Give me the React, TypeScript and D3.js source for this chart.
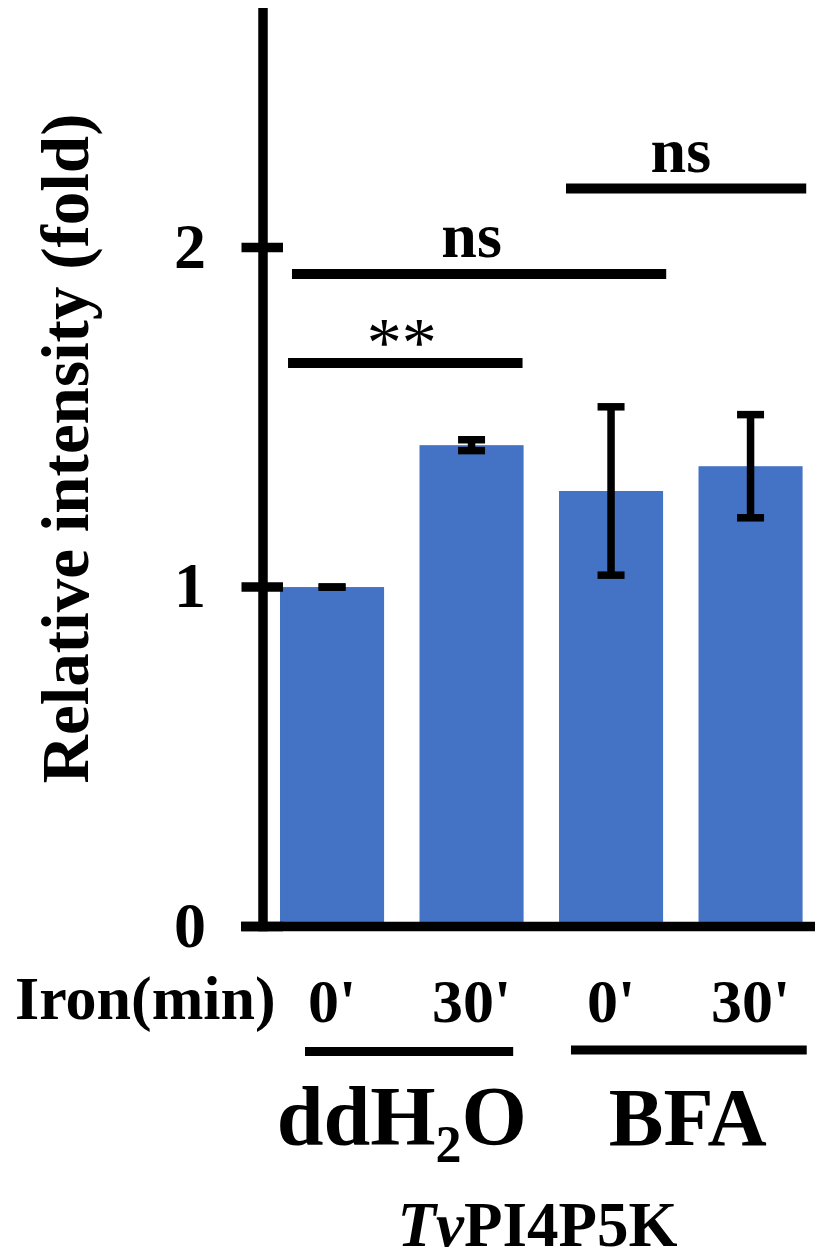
import React from "react";
import * as d3 from "d3";

const categoryIds = ["ddH2O-0", "ddH2O-30", "BFA-0", "BFA-30"];
const categoryLabels = ["0'", "30'", "0'", "30'"];
const means = [1.0, 1.418, 1.283, 1.356];
const errors = [0.0, 0.016, 0.248, 0.152];
const yTicks = [0, 1, 2];
const groupLabels = ["ddH2O", "BFA"];
const groupMembers = [[0, 1], [2, 3]];
const sigFrom = [0, 0, 2];
const sigTo = [1, 2, 3];
const sigLevel = [1.66, 1.922, 2.174];
const sigLabels = ["**", "ns", "ns"];

const W = 815;
const H = 1259;
const FONT = "'Liberation Serif', 'Times New Roman', serif";
const BLUE = "#4472C4";

export default function App() {
  const x = d3
    .scaleBand<string>()
    .domain(categoryIds)
    .range([262.3, 820.3])
    .paddingInner(0.254)
    .paddingOuter(0.127);
  const y = d3.scaleLinear().domain([0, 2.7]).range([926.5, 10]);
  const bw = x.bandwidth();
  const axisX = 263;
  const lw = 9.5;

  // layout offsets for significance lines (fractions of bar width)
  const sigLeftOff = [0.077, 0.115, 0.067];
  const sigRightOff = [0.99, 1.03, 1.035];
  const grpLeftOff = [0.24, 0.115];
  const grpRightOff = [0.9, 1.04];
  const grpLineY = [1051.5, 1050];

  const cx = (i: number) => (x(categoryIds[i]) as number) + bw / 2;

  return (
    <div style={{ position: "absolute", left: 0, top: 0 }}>
      <svg width={W} height={H} style={{ display: "block", background: "#fff" }}>
        {/* bars */}
        {means.map((m, i) => (
          <rect
            key={"b" + i}
            x={x(categoryIds[i])}
            y={y(m)}
            width={bw}
            height={y(0) - y(m)}
            fill={BLUE}
          />
        ))}
        {/* error bars */}
        {means.map((m, i) => {
          const c = cx(i);
          const top = y(m + errors[i]);
          const bot = y(m - errors[i]);
          return (
            <g key={"e" + i} stroke="#000" strokeWidth={7.5}>
              <line x1={c} x2={c} y1={top} y2={bot} />
              <line x1={c - 13.5} x2={c + 13.5} y1={top} y2={top} />
              <line x1={c - 13.5} x2={c + 13.5} y1={bot} y2={bot} />
            </g>
          );
        })}
        {/* y axis */}
        <line x1={axisX} x2={axisX} y1={8} y2={y(0) + lw / 2} stroke="#000" strokeWidth={lw} />
        {yTicks.map((t) => (
          <g key={"t" + t}>
            <line x1={241.5} x2={283} y1={y(t)} y2={y(t)} stroke="#000" strokeWidth={lw} />
            <text
              x={206}
              y={y(t) + 20}
              textAnchor="end"
              fontFamily={FONT}
              fontWeight="bold"
              fontSize={64}
            >
              {t}
            </text>
          </g>
        ))}
        {/* baseline */}
        <line x1={241} x2={W} y1={y(0)} y2={y(0)} stroke="#000" strokeWidth={lw} />
        {/* y label */}
        <text
          transform={`translate(88, 448.5) rotate(-90)`}
          textAnchor="middle"
          fontFamily={FONT}
          fontWeight="bold"
          fontSize={67}
        >
          Relative intensity (fold)
        </text>
        {/* significance */}
        {sigLabels.map((lab, k) => {
          const x1 = (x(categoryIds[sigFrom[k]]) as number) + bw * sigLeftOff[k];
          const x2 = (x(categoryIds[sigTo[k]]) as number) + bw * sigRightOff[k];
          const ly = y(sigLevel[k]);
          const mid = (cx(sigFrom[k]) + cx(sigTo[k])) / 2;
          const isStar = lab.startsWith("*");
          return (
            <g key={"s" + k}>
              <line x1={x1} x2={x2} y1={ly} y2={ly} stroke="#000" strokeWidth={10} />
              <text
                x={mid}
                y={isStar ? ly + 3 : ly - 17}
                textAnchor="middle"
                fontFamily={FONT}
                fontWeight={isStar ? "normal" : "bold"}
                fontSize={isStar ? 70 : 64}
              >
                {lab}
              </text>
            </g>
          );
        })}
        {/* x labels */}
        <text x={15} y={1019} fontFamily={FONT} fontWeight="bold" fontSize={62}>
          Iron(min)
        </text>
        {categoryLabels.map((lab, i) => (
          <text
            key={"c" + i}
            x={cx(i)}
            y={1022}
            textAnchor="middle"
            fontFamily={FONT}
            fontWeight="bold"
            fontSize={62}
          >
            {lab}
          </text>
        ))}
        {groupLabels.map((g, k) => {
          const [a, b] = groupMembers[k];
          const x1 = (x(categoryIds[a]) as number) + bw * grpLeftOff[k];
          const x2 = (x(categoryIds[b]) as number) + bw * grpRightOff[k];
          const mid = (cx(a) + cx(b)) / 2;
          return (
            <g key={"g" + k}>
              <line x1={x1} x2={x2} y1={grpLineY[k]} y2={grpLineY[k]} stroke="#000" strokeWidth={9} />
              {g === "ddH2O" ? (
                <text x={mid} y={1145} textAnchor="middle" fontFamily={FONT} fontWeight="bold" fontSize={84}>
                  ddH
                  <tspan fontSize={52} dy={17}>2</tspan>
                  <tspan dy={-17}>O</tspan>
                </text>
              ) : (
                <text x={mid + 7} y={1145} textAnchor="middle" fontFamily={FONT} fontWeight="bold" fontSize={82}>
                  {g}
                </text>
              )}
            </g>
          );
        })}
        <text x={537.5} y={1246} textAnchor="middle" fontFamily={FONT} fontWeight="bold" fontSize={63}>
          <tspan fontStyle="italic">Tv</tspan>PI4P5K
        </text>
      </svg>
    </div>
  );
}
